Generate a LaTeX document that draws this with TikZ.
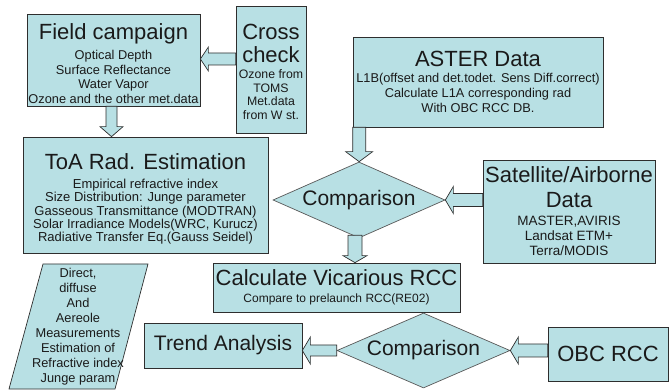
\documentclass[tikz,border=0pt]{standalone}
\usepackage{fontspec}
\setmainfont{Liberation Sans}
\usetikzlibrary{calc,shapes.geometric}
\definecolor{boxc}{HTML}{B8E0E4}
\definecolor{edgec}{HTML}{2E2E2E}
\definecolor{txtc}{HTML}{1A1A1A}
\newcommand\ttl[1]{{\fontsize{22}{24}\selectfont #1}}
\newcommand\blkarrow[5]{%
  \coordinate (bS) at #1;
  \coordinate (bT) at #2;
  \coordinate (bH) at ($(bT)!#5!(bS)$);
  \draw[blk] ($(bS)!#3!90:(bT)$) -- ($(bH)!#3!-90:(bS)$) -- ($(bH)!#4!-90:(bS)$)
    -- (bT) -- ($(bH)!#4!90:(bS)$) -- ($(bH)!#3!90:(bS)$) -- ($(bS)!#3!-90:(bT)$) -- cycle;}
\begin{document}
\begin{tikzpicture}[x=1pt,y=-1pt,
  box/.style={draw=edgec, fill=boxc, line width=0.7pt, inner sep=0pt, align=center,
    text=txtc, execute at begin node={\lineskiplimit=-100pt}},
  dia/.style={shape=diamond, draw=edgec!80, fill=boxc, line width=0.7pt, inner sep=0pt,
    aspect=2.26, text=txtc, font=\fontsize{21}{23}\selectfont},
  blk/.style={draw=edgec, fill=boxc, line width=0.7pt, line join=miter}]
\useasboundingbox (0,0) rectangle (670,390);

% boxes
\node[box, minimum width=173pt, minimum height=92pt, font=\fontsize{12.8}{14.5}\selectfont]
  (fc) at (113.5,60) {\ttl{\rule{0pt}{23pt}Field campaign}\\[5.5pt]Optical Depth\\Surface Reflectance\\Water Vapor\\Ozone and the other met.data};
\node[box, minimum width=70pt, minimum height=127pt, font=\fontsize{12.3}{13.5}\selectfont]
  (cc) at (271,69.5) {\ttl{\rule{0pt}{20pt}Cross}\\[9.5pt]\ttl{check}\\[2.5pt]Ozone from\\TOMS\\Met.data\\from W st.};
\node[box, minimum width=250pt, minimum height=90pt, font=\fontsize{12.8}{15}\selectfont]
  (as) at (478,82) {\ttl{ASTER Data}\\[1pt]L1B(offset and det.todet. Sens Diff.correct)\\Calculate L1A corresponding rad\\With OBC RCC DB.};
\node[box, minimum width=245pt, minimum height=116pt, font=\fontsize{13}{13.3}\selectfont]
  (toa) at (145.5,195) {\ttl{\rule{0pt}{24pt}ToA Rad. Estimation}\\[6pt]Empirical refractive index\\Size Distribution: Junge parameter\\Gasseous Transmittance (MODTRAN)\\Solar Irradiance Models(WRC, Kurucz)\\Radiative Transfer Eq.(Gauss Seidel)};
\node[box, minimum width=172pt, minimum height=103pt, font=\fontsize{13.5}{15}\selectfont]
  (sat) at (569,211.5) {\ttl{Satellite/Airborne}\\[10pt]\ttl{Data}\\[3pt]MASTER,AVIRIS\\Landsat ETM+\\Terra/MODIS};
\node[box, minimum width=247pt, minimum height=49pt, font=\fontsize{12}{13}\selectfont]
  (cv) at (336.5,287.5) {\ttl{Calculate Vicarious RCC}\\[4pt]Compare to prelaunch RCC(RE02)};
\node[box, minimum width=158pt, minimum height=45pt, font=\fontsize{21}{23}\selectfont]
  (tr) at (223,345.5) {Trend Analysis};
\node[box, minimum width=120pt, minimum height=54pt, font=\fontsize{22}{24}\selectfont]
  (obc) at (608,354) {OBC RCC};

% diamonds
\node[dia, minimum width=172pt, minimum height=76pt] (cmp1) at (359,200) {Comparison};
\node[dia, minimum width=173pt, minimum height=75pt] (cmp2) at (423.5,350.5) {Comparison};

% parallelogram
\draw[draw=edgec, fill=boxc, line width=0.7pt] (43,264) coordinate (p1) -- (148,264) coordinate (p2)
  -- (115,389) coordinate (p3) -- (9,389) coordinate (p4) -- cycle;
\node[inner sep=0pt, align=center, text=txtc, font=\fontsize{12.8}{15}\selectfont,
  execute at begin node={\lineskiplimit=-100pt}]
  (par) at (78,327) {Direct,\\diffuse\\And\\Aereole\\Measurements\\Estimation of\\Refractive index\\Junge param};

% block arrows
\blkarrow{($(cc.west)+(0,-10.5)$)}{(fc.east |- bS)}{6pt}{12pt}{8pt}
\blkarrow{($(fc.south)+(-2,0)$)}{(toa.north -| bS)}{5.5pt}{11.5pt}{10pt}
\blkarrow{($(as.south west)+(6.5,0)$)}{(cmp1.north -| bS)}{6.5pt}{13.5pt}{10pt}
\blkarrow{(sat.west |- cmp1.east)}{(cmp1.east)}{6.5pt}{13.5pt}{8pt}
\blkarrow{($(cmp1.south)+(-4,-3)$)}{(cv.north -| bS)}{7pt}{12pt}{7pt}
\blkarrow{(cmp2.west)}{(tr.east |- bS)}{5.5pt}{13.5pt}{8pt}
\blkarrow{(obc.west |- cmp2.east)}{(cmp2.east)}{6.5pt}{13.5pt}{8pt}
\end{tikzpicture}
\end{document}
